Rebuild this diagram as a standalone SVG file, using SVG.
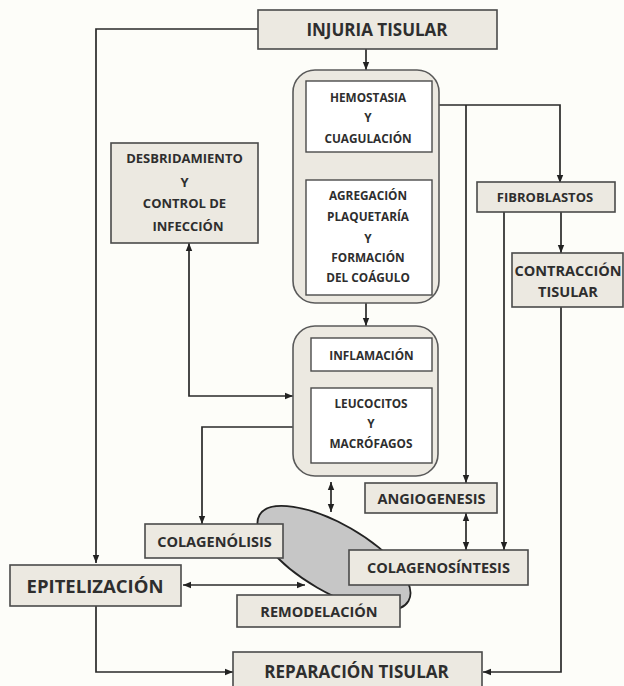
<svg xmlns="http://www.w3.org/2000/svg" width="624" height="686" viewBox="0 0 624 686">
<defs>
<marker id="ah" markerWidth="8" markerHeight="8" refX="8" refY="4" orient="auto-start-reverse" markerUnits="userSpaceOnUse">
<path d="M0,0.8 L8,4 L0,7.2 z" fill="#222"/>
</marker>
<style>
.box{fill:#ece9e1;stroke:#4a4a4a;stroke-width:1.6}
.cont{fill:#ece9e1;stroke:#5a5a5a;stroke-width:1.6}
.inner{fill:#ffffff;stroke:#4a4a4a;stroke-width:1.4}
.t{font-family:"Open Sans","Liberation Sans",sans-serif;font-weight:700;fill:#2e2e2e;text-anchor:middle}
.s11{font-size:11.8px}
.s12{font-size:13px}
.s13{font-size:14.5px}
.s15{font-size:17px}
.s17{font-size:18.5px}
.c{fill:none;stroke:#2a2a2a;stroke-width:1.7}
</style>
</defs>
<rect x="0" y="0" width="624" height="686" fill="#fdfdf9"/>

<g id="blob">
<ellipse cx="334" cy="558" rx="86" ry="34" transform="rotate(30 334 558)" fill="#c6c6c6" stroke="#222" stroke-width="1.8"/>
</g>

<g id="connectors">
<path class="c" d="M258,29 H96 V563" marker-end="url(#ah)"/>
<path class="c" d="M366,49 V70" marker-end="url(#ah)"/>
<path class="c" d="M366,152 V180" marker-end="url(#ah)"/>
<path class="c" d="M366,303 V326" marker-end="url(#ah)"/>
<path class="c" d="M439,105 H560 V183" marker-end="url(#ah)"/>
<path class="c" d="M466,105 V483" marker-end="url(#ah)"/>
<path class="c" d="M561,212 V253" marker-end="url(#ah)"/>
<path class="c" d="M504,212 V550" marker-end="url(#ah)"/>
<path class="c" d="M561,307 V672 H483" marker-end="url(#ah)"/>
<path class="c" d="M189,243 V396 H293" marker-start="url(#ah)" marker-end="url(#ah)"/>
<path class="c" d="M293,427 H202 V524" marker-end="url(#ah)"/>
<path class="c" d="M331,482 V512" marker-start="url(#ah)" marker-end="url(#ah)"/>
<path class="c" d="M466,513 V550" marker-start="url(#ah)" marker-end="url(#ah)"/>
<path class="c" d="M183,585 H305" marker-start="url(#ah)" marker-end="url(#ah)"/>
<path class="c" d="M96,606 V672 H233" marker-end="url(#ah)"/>
</g>

<g id="injuria">
<rect class="box" x="258" y="10" width="239" height="39"/>
<text class="t s15" x="377" y="35.5">INJURIA TISULAR</text>
</g>

<g id="fase-hemostasia">
<rect class="cont" x="293" y="70" width="146" height="233" rx="22"/>
</g>
<g id="hemostasia">
<rect class="inner" x="306" y="81" width="126" height="71"/>
<text class="t s11" x="368" y="101.5">HEMOSTASIA</text>
<text class="t s11" x="368" y="121.5">Y</text>
<text class="t s11" x="368" y="142.5">CUAGULACIÓN</text>
</g>
<g id="agregacion">
<rect class="inner" x="306" y="180" width="126" height="115"/>
<text class="t s11" x="368" y="199.5">AGREGACIÓN</text>
<text class="t s11" x="368" y="220.5">PLAQUETARÍA</text>
<text class="t s11" x="368" y="242.5">Y</text>
<text class="t s11" x="368" y="261.5">FORMACIÓN</text>
<text class="t s11" x="368" y="281.5">DEL COÁGULO</text>
</g>

<g id="fase-inflamacion">
<rect class="cont" x="293" y="326" width="145" height="150" rx="22"/>
</g>
<g id="inflamacion">
<rect class="inner" x="311" y="338" width="121" height="33"/>
<text class="t s11" x="371.5" y="359.5">INFLAMACIÓN</text>
</g>
<g id="leucocitos">
<rect class="inner" x="311" y="388" width="121" height="75"/>
<text class="t s11" x="371" y="407.5">LEUCOCITOS</text>
<text class="t s11" x="371" y="427.5">Y</text>
<text class="t s11" x="371" y="447.5">MACRÓFAGOS</text>
</g>

<g id="desbridamiento">
<rect class="box" x="111" y="143" width="147" height="100"/>
<text class="t s12" x="184.5" y="162.5">DESBRIDAMIENTO</text>
<text class="t s12" x="184.5" y="186.5">Y</text>
<text class="t s12" x="184.5" y="207.5">CONTROL DE</text>
<text class="t s12" x="188" y="230.5">INFECCIÓN</text>
</g>

<g id="fibroblastos">
<rect class="box" x="477" y="182" width="138" height="30"/>
<text class="t s12" x="545" y="201.5">FIBROBLASTOS</text>
</g>

<g id="contraccion">
<rect class="box" x="512" y="253" width="111" height="54"/>
<text class="t s13" x="568" y="276">CONTRACCIÓN</text>
<text class="t s13" x="568" y="297">TISULAR</text>
</g>

<g id="angiogenesis">
<rect class="box" x="365" y="483" width="132" height="30"/>
<text class="t s13" x="431.5" y="503.5">ANGIOGENESIS</text>
</g>

<g id="colagenolisis">
<rect class="box" x="145" y="524" width="138" height="34"/>
<text class="t s13" x="214.5" y="546.5">COLAGENÓLISIS</text>
</g>

<g id="colagenosintesis">
<rect class="box" x="349" y="550" width="179" height="35"/>
<text class="t s13" x="438.5" y="572.5">COLAGENOSÍNTESIS</text>
</g>

<g id="epitelizacion">
<rect class="box" x="10" y="565" width="171" height="41"/>
<text class="t s17" x="95" y="592.5">EPITELIZACIÓN</text>
</g>

<g id="remodelacion">
<rect class="box" x="237" y="595" width="163" height="32"/>
<text class="t s13" x="319" y="616.5">REMODELACIÓN</text>
</g>

<g id="reparacion">
<rect class="box" x="233" y="652" width="249" height="40"/>
<text class="t s15" x="356.5" y="678">REPARACIÓN TISULAR</text>
</g>
</svg>
